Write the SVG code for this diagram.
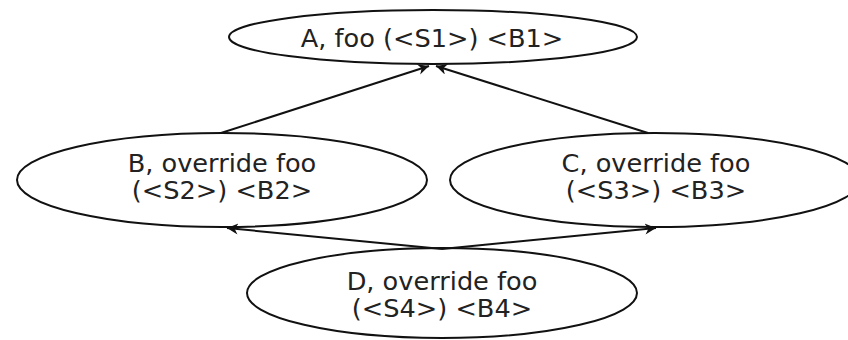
<svg xmlns="http://www.w3.org/2000/svg" width="848" height="340" viewBox="0 0 848 340">
<style>
.node ellipse{fill:#fff;stroke:#111;stroke-width:2}
.node text{font-family:"DejaVu Sans",Verdana,sans-serif;font-size:25.6px;fill:#222;text-anchor:middle}
.edge{fill:none;stroke:#111;stroke-width:2;marker-end:url(#ah)}
</style>
<defs>
<marker id="ah" viewBox="0 0 10 10" refX="10" refY="5" markerWidth="6" markerHeight="5.5" orient="auto" markerUnits="strokeWidth">
<path d="M0,0 L10,5 L0,10 L3,5 Z" fill="#111"/>
</marker>
</defs>
<rect width="848" height="340" fill="#fff"/>
<g id="nodeA" class="node">
<ellipse cx="433" cy="37" rx="204" ry="27"/>
<text x="432" y="47">A, foo (&lt;S1&gt;) &lt;B1&gt;</text>
</g>
<g id="nodeB" class="node">
<ellipse cx="222" cy="180" rx="205" ry="47"/>
<text x="222" y="172">B, override foo</text>
<text x="222" y="199">(&lt;S2&gt;) &lt;B2&gt;</text>
</g>
<g id="nodeC" class="node">
<ellipse cx="655" cy="180" rx="205" ry="47"/>
<text x="656" y="172">C, override foo</text>
<text x="656" y="199">(&lt;S3&gt;) &lt;B3&gt;</text>
</g>
<g id="nodeD" class="node">
<ellipse cx="442" cy="293" rx="195" ry="45"/>
<text x="442" y="290">D, override foo</text>
<text x="442" y="317">(&lt;S4&gt;) &lt;B4&gt;</text>
</g>
<g id="connectors">
<path class="edge" d="M221,133 L429,66"/>
<path class="edge" d="M648,133 L436,66"/>
<path class="edge" d="M442,249 L227,228"/>
<path class="edge" d="M442,249 L656,228"/>
</g>
</svg>
